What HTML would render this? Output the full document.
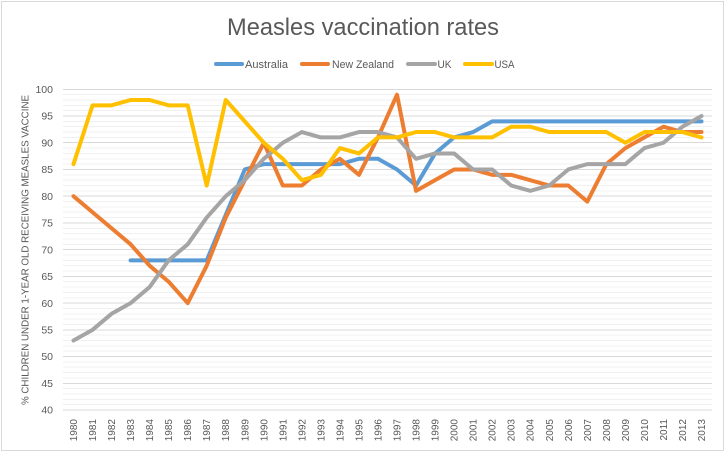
<!DOCTYPE html>
<html><head><meta charset="utf-8"><style>
html,body{margin:0;padding:0;background:#fff;}
svg{display:block;}
text{font-family:"Liberation Sans",Arial,sans-serif;fill:#595959;}
</style></head><body>
<svg width="726" height="453" viewBox="0 0 726 453" xmlns="http://www.w3.org/2000/svg">
<rect x="0" y="0" width="726" height="453" fill="#fff"/>
<rect x="1.5" y="1.5" width="722" height="449" fill="none" stroke="#d9d9d9" stroke-width="1"/>
<text x="363" y="35" font-size="24" text-anchor="middle" textLength="272" lengthAdjust="spacingAndGlyphs">Measles vaccination rates</text>
<g stroke-width="4" stroke-linecap="round">
<line x1="216" y1="64" x2="242" y2="64" stroke="#5B9BD5"/>
<line x1="302" y1="64" x2="328" y2="64" stroke="#ED7D31"/>
<line x1="408" y1="64" x2="435" y2="64" stroke="#A5A5A5"/>
<line x1="465" y1="64" x2="492" y2="64" stroke="#FFC000"/>
</g>
<g font-size="11">
<text x="245" y="68" textLength="43" lengthAdjust="spacingAndGlyphs">Australia</text>
<text x="332" y="68" textLength="62" lengthAdjust="spacingAndGlyphs">New Zealand</text>
<text x="437.5" y="68" textLength="14" lengthAdjust="spacingAndGlyphs">UK</text>
<text x="494.5" y="68" textLength="20" lengthAdjust="spacingAndGlyphs">USA</text>
</g>
<g id="grid" stroke-width="1" shape-rendering="crispEdges">
<g stroke="#f0f0f0">
<line x1="63" x2="712" y1="94.6" y2="94.6"/><line x1="63" x2="712" y1="100.0" y2="100.0"/><line x1="63" x2="712" y1="105.3" y2="105.3"/><line x1="63" x2="712" y1="110.7" y2="110.7"/>
<line x1="63" x2="712" y1="121.4" y2="121.4"/><line x1="63" x2="712" y1="126.7" y2="126.7"/><line x1="63" x2="712" y1="132.1" y2="132.1"/><line x1="63" x2="712" y1="137.4" y2="137.4"/>
<line x1="63" x2="712" y1="148.1" y2="148.1"/><line x1="63" x2="712" y1="153.4" y2="153.4"/><line x1="63" x2="712" y1="158.8" y2="158.8"/><line x1="63" x2="712" y1="164.1" y2="164.1"/>
<line x1="63" x2="712" y1="174.8" y2="174.8"/><line x1="63" x2="712" y1="180.2" y2="180.2"/><line x1="63" x2="712" y1="185.5" y2="185.5"/><line x1="63" x2="712" y1="190.9" y2="190.9"/>
<line x1="63" x2="712" y1="201.5" y2="201.5"/><line x1="63" x2="712" y1="206.9" y2="206.9"/><line x1="63" x2="712" y1="212.2" y2="212.2"/><line x1="63" x2="712" y1="217.6" y2="217.6"/>
<line x1="63" x2="712" y1="228.3" y2="228.3"/><line x1="63" x2="712" y1="233.6" y2="233.6"/><line x1="63" x2="712" y1="239.0" y2="239.0"/><line x1="63" x2="712" y1="244.3" y2="244.3"/>
<line x1="63" x2="712" y1="255.0" y2="255.0"/><line x1="63" x2="712" y1="260.3" y2="260.3"/><line x1="63" x2="712" y1="265.7" y2="265.7"/><line x1="63" x2="712" y1="271.0" y2="271.0"/>
<line x1="63" x2="712" y1="281.7" y2="281.7"/><line x1="63" x2="712" y1="287.1" y2="287.1"/><line x1="63" x2="712" y1="292.4" y2="292.4"/><line x1="63" x2="712" y1="297.8" y2="297.8"/>
<line x1="63" x2="712" y1="308.4" y2="308.4"/><line x1="63" x2="712" y1="313.8" y2="313.8"/><line x1="63" x2="712" y1="319.1" y2="319.1"/><line x1="63" x2="712" y1="324.5" y2="324.5"/>
<line x1="63" x2="712" y1="335.2" y2="335.2"/><line x1="63" x2="712" y1="340.5" y2="340.5"/><line x1="63" x2="712" y1="345.9" y2="345.9"/><line x1="63" x2="712" y1="351.2" y2="351.2"/>
<line x1="63" x2="712" y1="361.9" y2="361.9"/><line x1="63" x2="712" y1="367.2" y2="367.2"/><line x1="63" x2="712" y1="372.6" y2="372.6"/><line x1="63" x2="712" y1="377.9" y2="377.9"/>
<line x1="63" x2="712" y1="388.6" y2="388.6"/><line x1="63" x2="712" y1="394.0" y2="394.0"/><line x1="63" x2="712" y1="399.3" y2="399.3"/><line x1="63" x2="712" y1="404.7" y2="404.7"/>
</g>
<g stroke="#d9d9d9">
<line x1="63" x2="712" y1="89.3" y2="89.3"/><line x1="63" x2="712" y1="116.0" y2="116.0"/><line x1="63" x2="712" y1="142.7" y2="142.7"/><line x1="63" x2="712" y1="169.5" y2="169.5"/>
<line x1="63" x2="712" y1="196.2" y2="196.2"/><line x1="63" x2="712" y1="222.9" y2="222.9"/><line x1="63" x2="712" y1="249.6" y2="249.6"/><line x1="63" x2="712" y1="276.4" y2="276.4"/>
<line x1="63" x2="712" y1="303.1" y2="303.1"/><line x1="63" x2="712" y1="329.8" y2="329.8"/><line x1="63" x2="712" y1="356.5" y2="356.5"/><line x1="63" x2="712" y1="383.3" y2="383.3"/>
<line x1="63" x2="712" y1="410.0" y2="410.0"/>
</g>
</g>
<g font-size="10.5" text-anchor="end">
<text x="53" y="93">100</text><text x="53" y="119.7">95</text><text x="53" y="146.4">90</text><text x="53" y="173.2">85</text>
<text x="53" y="199.9">80</text><text x="53" y="226.6">75</text><text x="53" y="253.3">70</text><text x="53" y="280.1">65</text>
<text x="53" y="306.8">60</text><text x="53" y="333.5">55</text><text x="53" y="360.2">50</text><text x="53" y="387">45</text>
<text x="53" y="413.7">40</text>
</g>
<text transform="translate(28.5,250) rotate(-90)" font-size="9.7" text-anchor="middle" textLength="310" lengthAdjust="spacingAndGlyphs">% CHILDREN UNDER 1-YEAR OLD RECEIVING MEASLES VACCINE</text>
<g font-size="10" text-anchor="end">
<text transform="translate(77.0,419) rotate(-90)">1980</text>
<text transform="translate(96.0,419) rotate(-90)">1981</text>
<text transform="translate(115.1,419) rotate(-90)">1982</text>
<text transform="translate(134.1,419) rotate(-90)">1983</text>
<text transform="translate(153.1,419) rotate(-90)">1984</text>
<text transform="translate(172.2,419) rotate(-90)">1985</text>
<text transform="translate(191.2,419) rotate(-90)">1986</text>
<text transform="translate(210.2,419) rotate(-90)">1987</text>
<text transform="translate(229.2,419) rotate(-90)">1988</text>
<text transform="translate(248.3,419) rotate(-90)">1989</text>
<text transform="translate(267.3,419) rotate(-90)">1990</text>
<text transform="translate(286.3,419) rotate(-90)">1991</text>
<text transform="translate(305.4,419) rotate(-90)">1992</text>
<text transform="translate(324.4,419) rotate(-90)">1993</text>
<text transform="translate(343.4,419) rotate(-90)">1994</text>
<text transform="translate(362.5,419) rotate(-90)">1995</text>
<text transform="translate(381.5,419) rotate(-90)">1996</text>
<text transform="translate(400.5,419) rotate(-90)">1997</text>
<text transform="translate(419.5,419) rotate(-90)">1998</text>
<text transform="translate(438.6,419) rotate(-90)">1999</text>
<text transform="translate(457.6,419) rotate(-90)">2000</text>
<text transform="translate(476.6,419) rotate(-90)">2001</text>
<text transform="translate(495.7,419) rotate(-90)">2002</text>
<text transform="translate(514.7,419) rotate(-90)">2003</text>
<text transform="translate(533.7,419) rotate(-90)">2004</text>
<text transform="translate(552.8,419) rotate(-90)">2005</text>
<text transform="translate(571.8,419) rotate(-90)">2006</text>
<text transform="translate(590.8,419) rotate(-90)">2007</text>
<text transform="translate(609.8,419) rotate(-90)">2008</text>
<text transform="translate(628.9,419) rotate(-90)">2009</text>
<text transform="translate(647.9,419) rotate(-90)">2010</text>
<text transform="translate(666.9,419) rotate(-90)">2011</text>
<text transform="translate(686.0,419) rotate(-90)">2012</text>
<text transform="translate(705.0,419) rotate(-90)">2013</text>
</g>
<g transform="translate(73.5,89.3) scale(19.03,-5.345) translate(0,-100)" fill="none" stroke-linejoin="round" stroke-linecap="round">
<polyline vector-effect="non-scaling-stroke" stroke="#5B9BD5" stroke-width="4" points="3,68 4,68 5,68 6,68 7,68 8,76.5 9,85 10,86 11,86 12,86 13,86 14,86 15,87 16,87 17,85 18,82 19,88 20,91 21,92 22,94 23,94 24,94 25,94 26,94 27,94 28,94 29,94 30,94 31,94 32,94 33,94"/>
<polyline vector-effect="non-scaling-stroke" stroke="#ED7D31" stroke-width="4" points="0,80 1,77 2,74 3,71 4,67 5,64 6,60 7,67 8,76 9,83 10,90 11,82 12,82 13,85 14,87 15,84 16,91 17,99 18,81 19,83 20,85 21,85 22,84 23,84 24,83 25,82 26,82 27,79 28,86 29,89 30,91 31,93 32,92 33,92"/>
<polyline vector-effect="non-scaling-stroke" stroke="#A5A5A5" stroke-width="4" points="0,53 1,55 2,58 3,60 4,63 5,68 6,71 7,76 8,80 9,83 10,87 11,90 12,92 13,91 14,91 15,92 16,92 17,91 18,87 19,88 20,88 21,85 22,85 23,82 24,81 25,82 26,85 27,86 28,86 29,86 30,89 31,90 32,93 33,95"/>
<polyline vector-effect="non-scaling-stroke" stroke="#FFC000" stroke-width="4" points="0,86 1,97 2,97 3,98 4,98 5,97 6,97 7,82 8,98 9,94 10,90 11,87 12,83 13,84 14,89 15,88 16,91 17,91 18,92 19,92 20,91 21,91 22,91 23,93 24,93 25,92 26,92 27,92 28,92 29,90 30,92 31,92 32,92 33,91"/>
</g>
</svg>
</body></html>
